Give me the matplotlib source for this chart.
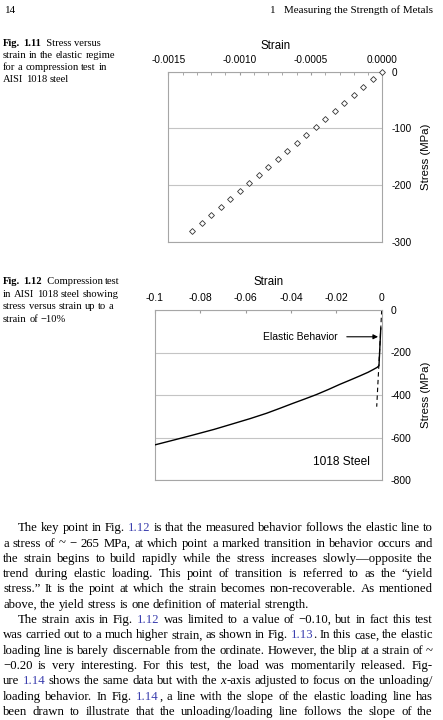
import re
import numpy as np
import matplotlib
matplotlib.use('Agg')
import matplotlib.pyplot as plt

plt.rcParams['axes.unicode_minus'] = False

# Fig. 1.11 - elastic regime points
strain1 = [0.0, -0.0000678, -0.000133, -0.000199, -0.000266, -0.000332, -0.000400,
           -0.000465, -0.000533, -0.000598, -0.000666, -0.000731, -0.000799,
           -0.000864, -0.000932, -0.000998, -0.001065, -0.001133, -0.001199,
           -0.001264, -0.001332]
stress1 = [0.0, -13.5, -27.6, -41.8, -55.9, -69.4, -84.1, -98.2, -112.4, -126.5,
           -140.6, -154.7, -168.2, -182.9, -197.1, -211.2, -225.3, -239.4,
           -253.5, -267.1, -281.8]

# Fig. 1.12 - compression test up to -10 %
strain2 = [-0.0004, -0.0012, -0.0020, -0.0037, -0.0060, -0.0096, -0.0140, -0.0185,
           -0.0235, -0.0288, -0.0340, -0.0391, -0.0450, -0.0508, -0.0580, -0.0655,
           -0.0740, -0.0831, -0.0910, -0.1005]
stress2 = [-85, -262, -270, -280, -293, -310, -330, -350, -374, -398, -419, -439,
           -463, -486, -511, -535, -562, -588, -610, -636]
elastic_strain = [0.0, -0.0022]
elastic_stress = [0.0, -455]

xticks1 = [-0.0015, -0.0010, -0.0005, 0.0]
xlabels1 = ['-0.0015', '-0.0010', '-0.0005', '0.0000']
yticks1 = [0, -100, -200, -300]
ylabels1 = ['0', '-100', '-200', '-300']
xticks2 = [-0.1, -0.08, -0.06, -0.04, -0.02, 0]
xlabels2 = ['-0.1', '-0.08', '-0.06', '-0.04', '-0.02', '0']
yticks2 = [0, -200, -400, -600, -800]
ylabels2 = ['0', '-200', '-400', '-600', '-800']

W, H = 443, 720
fig = plt.figure(figsize=(W / 100, H / 100), dpi=100)
fig.patch.set_facecolor('white')

frame_col = '#a6a6a6'
grid_col = '#c4c4c4'
sans = 'Liberation Sans'
serif = ['Liberation Serif', 'DejaVu Serif']
blue = '#3b3fae'


def style_axes(ax, xt, xl, yt, yl, fs, xpad):
    ax.xaxis.tick_top()
    ax.xaxis.set_label_position('top')
    ax.yaxis.tick_right()
    ax.yaxis.set_label_position('right')
    ax.set_xticks(xt)
    ax.set_xticklabels(xl, fontfamily=sans, fontsize=fs)
    ax.set_yticks(yt)
    ax.set_yticklabels(yl, fontfamily=sans, fontsize=fs)
    ax.tick_params(axis='x', which='both', direction='in', length=2.5,
                   color='#999999', pad=5)
    ax.tick_params(axis='y', length=0, pad=6.5)
    ax.yaxis.grid(True, color=grid_col, lw=0.8)
    ax.set_axisbelow(True)
    for s in ax.spines.values():
        s.set_color(frame_col)
        s.set_linewidth(0.8)
    ax.set_xlabel('Strain', fontfamily=sans, fontsize=8.3, labelpad=xpad)
    ax.set_ylabel('Stress (MPa)', fontfamily=sans, fontsize=8.2, labelpad=7)


# ---- Fig 1.11
ax1 = fig.add_axes([168.3 / W, 1 - 241.7 / H, 214 / W, 170 / H])
ax1.plot(strain1, stress1, ls='none', marker='D', ms=3, mfc='white',
         mec='#333333', mew=0.6, clip_on=False, zorder=3)
ax1.set_xlim(-0.0015, 0)
ax1.set_ylim(-300, 0)
style_axes(ax1, xticks1, xlabels1, yticks1, ylabels1, 7.2, 4)
ax1.set_xticks(np.arange(-15, 1) * 0.0001, minor=True)

# ---- Fig 1.12
ax2 = fig.add_axes([155 / W, 1 - 480 / H, 226.7 / W, 170 / H])
ax2.plot(elastic_strain, elastic_stress, color='black', lw=0.8,
         dashes=(4, 3), zorder=2)
ax2.plot(strain2, stress2, color='black', lw=1.0, zorder=3)
ax2.set_xlim(-0.1, 0)
ax2.set_ylim(-800, 0)
style_axes(ax2, xticks2, xlabels2, yticks2, ylabels2, 7.5, 5.5)
ax2.text(-0.0193, -126, 'Elastic Behavior', ha='right', va='center',
         fontfamily=sans, fontsize=7.5)
ax2.annotate('', xy=(-0.0016, -126), xytext=(-0.0154, -126),
             arrowprops=dict(arrowstyle='-|>', color='black', lw=0.8,
                             mutation_scale=7, shrinkA=0, shrinkB=0))
ax2.text(-0.0177, -714, '1018 Steel', ha='center', va='center',
         fontfamily=sans, fontsize=8.6)

# ---- page text
renderer = fig.canvas.get_renderer()
tok_re = re.compile(r'\[([^\]]*)\]|\*([^*]*)\*|_([^_]*)_|([^\[\*_]+)')


def parts_of(word):
    out = []
    for blue_t, bold_t, ital_t, plain in tok_re.findall(word):
        if blue_t:
            out.append((blue_t, dict(color=blue)))
        elif bold_t:
            out.append((bold_t, dict(fontweight='bold')))
        elif ital_t:
            out.append((ital_t, dict(fontstyle='italic')))
        else:
            out.append((plain, {}))
    return out


def ink(s, size, kw):
    t = fig.text(0, 0, s, fontsize=size, family=serif, **kw)
    w = t.get_window_extent(renderer).width
    t.remove()
    return w


def adv(s, size, kw):
    # advance width, measured between two H's
    return ink('H' + s + 'H', size, kw) - ink('HH', size, kw)


def put_word(parts, x, y, size):
    # pieces of one word (link + punctuation) sit right after each other
    for s, kw in parts:
        kw = dict(kw)
        kw.setdefault('color', 'black')
        fig.text(x / W, 1 - y / H, s, fontsize=size, family=serif,
                 va='baseline', ha='left', **kw)
        x += ink(s, size, kw)


def put_line(line, x0, y, size, x1=None):
    words = line.split(' ')
    wparts = [parts_of(w) for w in words]
    widths = [sum(adv(s, size, kw) for s, kw in p) for p in wparts]
    total = sum(widths)
    space = adv(' ', size, {})
    if x1 is not None and len(words) > 1:
        gap = (x1 - x0 - total) / (len(words) - 1)
    else:
        gap = space
    x = x0
    for p, w in zip(wparts, widths):
        put_word(p, x, y, size)
        x += w + gap


# header
fig.text(5 / W, 1 - 13 / H, '14', fontsize=7.9, family=serif,
         ha='left', va='baseline')
fig.text(433 / W, 1 - 13 / H, 'Measuring the Strength of Metals',
         fontsize=7.9, family=serif, ha='right', va='baseline')
fig.text(270 / W, 1 - 13 / H, '1', fontsize=7.9, family=serif,
         ha='left', va='baseline')

cap1 = ['*Fig.* *1.11*\u2002Stress versus',
        'strain in the elastic regime',
        'for a compression test in',
        'AISI 1018 steel']
cap2 = ['*Fig.* *1.12*\u2002Compression test',
        'in AISI 1018 steel showing',
        'stress versus strain up to a',
        'strain of \u221210%']
for i, ln in enumerate(cap1):
    put_line(ln, 3, 46.5 + 12 * i, 7.6)
for i, ln in enumerate(cap2):
    put_line(ln, 3, 284 + 12.6 * i, 7.6)

body = [
    ('The key point in Fig. [1.12] is that the measured behavior follows the elastic line to', True, True),
    ('a stress of ~ \u2212 265 MPa, at which point a marked transition in behavior occurs and', False, True),
    ('the strain begins to build rapidly while the stress increases slowly\u2014opposite the', False, True),
    ('trend during elastic loading. This point of transition is referred to as the \u201cyield', False, True),
    ('stress.\u201d It is the point at which the strain becomes non-recoverable. As mentioned', False, True),
    ('above, the yield stress is one definition of material strength.', False, False),
    ('The strain axis in Fig. [1.12] was limited to a value of \u22120.10, but in fact this test', True, True),
    ('was carried out to a much higher strain, as shown in Fig. [1.13]. In this case, the elastic', False, True),
    ('loading line is barely discernable from the ordinate. However, the blip at a strain of ~', False, True),
    ('\u22120.20 is very interesting. For this test, the load was momentarily released. Fig-', False, True),
    ('ure [1.14] shows the same data but with the _x_-axis adjusted to focus on the unloading/', False, True),
    ('loading behavior. In Fig. [1.14], a line with the slope of the elastic loading line has', False, True),
    ('been drawn to illustrate that the unloading/loading line follows the slope of the', False, True),
]
for i, (ln, indent, just) in enumerate(body):
    x0 = 18 if indent else 3
    put_line(ln, x0, 531.2 + 15.32 * i, 9.2, 433 if just else None)

fig.savefig('out.png', dpi=100, facecolor='white')
